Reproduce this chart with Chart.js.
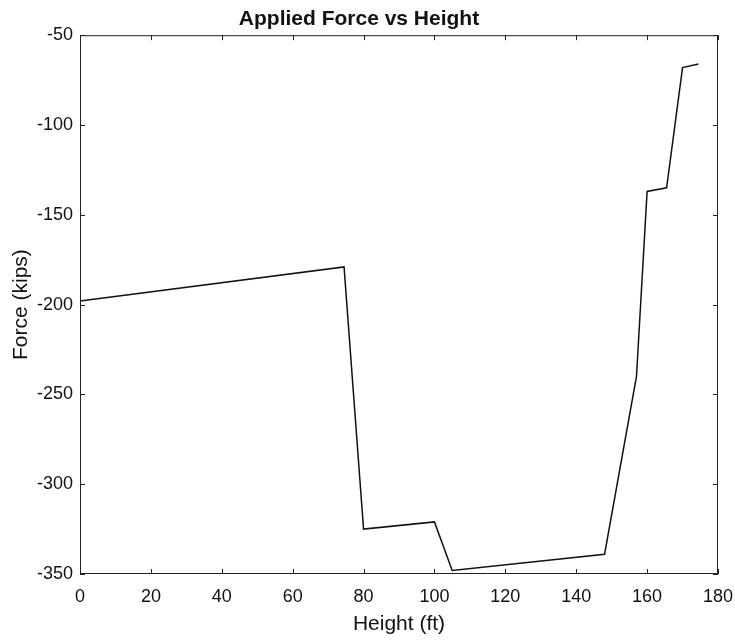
<!DOCTYPE html>
<html>
<head>
<meta charset="utf-8">
<script src="https://cdn.jsdelivr.net/npm/chart.js@4/dist/chart.umd.min.js"></script>
<style>
  html, body { margin: 0; padding: 0; background: #fff; }
  #wrap { width: 735px; height: 640px; }
</style>
</head>
<body>
<div id="wrap"><canvas id="forceChart" width="735" height="640"></canvas></div>
<script>
// values
const heights = [0, 74.5, 80, 100, 105, 148, 157, 160, 165.5, 170, 174.5];
const forces = [-198, -179, -325, -321, -348, -339, -240, -137, -135, -68, -66];
const xTicks = [0, 20, 40, 60, 80, 100, 120, 140, 160, 180];
const yTicks = [-350, -300, -250, -200, -150, -100, -50];

const points = heights.map((h, i) => ({ x: h, y: forces[i] }));

// matlab style box with inward ticks on all four sides
const boxTicks = {
    id: 'boxTicks',
    afterDraw(chart) {
        const ctx = chart.ctx;
        const a = chart.chartArea;
        const xs = chart.scales.x;
        const ys = chart.scales.y;
        const len = 5;
        ctx.save();
        ctx.strokeStyle = '#222';
        ctx.lineWidth = 1;
        ctx.strokeRect(a.left + 0.5, a.top + 0.5, a.right - a.left - 1, a.bottom - a.top - 1);
        ctx.beginPath();
        xTicks.forEach(v => {
            const px = Math.round(xs.getPixelForValue(v)) + 0.5;
            ctx.moveTo(px, a.bottom);
            ctx.lineTo(px, a.bottom - len);
            ctx.moveTo(px, a.top);
            ctx.lineTo(px, a.top + len);
        });
        yTicks.forEach(v => {
            const py = Math.round(ys.getPixelForValue(v)) + 0.5;
            ctx.moveTo(a.left, py);
            ctx.lineTo(a.left + len, py);
            ctx.moveTo(a.right, py);
            ctx.lineTo(a.right - len, py);
        });
        ctx.stroke();
        ctx.restore();
    }
};

Chart.defaults.font.family = '"Liberation Sans", Arial, sans-serif';
Chart.defaults.color = '#111';

new Chart(document.getElementById('forceChart'), {
    type: 'scatter',
    data: {
        datasets: [{
            data: points,
            showLine: true,
            borderColor: '#111',
            borderWidth: 1.5,
            pointRadius: 0,
            tension: 0
        }]
    },
    options: {
        responsive: false,
        animation: false,
        layout: {
            padding: { left: 0, right: 17, top: 0, bottom: 0 }
        },
        plugins: {
            legend: { display: false },
            tooltip: { enabled: false },
            title: {
                display: true,
                text: 'Applied Force vs Height',
                font: { size: 21, weight: 'bold' },
                color: '#111',
                padding: { top: 7, bottom: 3 }
            }
        },
        scales: {
            x: {
                type: 'linear',
                min: 0,
                max: 180,
                afterBuildTicks: s => { s.ticks = xTicks.map(v => ({ value: v })); },
                afterFit: s => { s.height = 66; s.paddingRight = 0; s.paddingLeft = 0; },
                ticks: { font: { size: 18 }, padding: 12, maxRotation: 0 },
                grid: { display: false, drawTicks: false },
                border: { display: false },
                title: {
                    display: true,
                    text: 'Height (ft)',
                    font: { size: 21 },
                    padding: { top: 0, bottom: 3 }
                }
            },
            y: {
                type: 'linear',
                min: -350,
                max: -50,
                afterBuildTicks: s => { s.ticks = yTicks.map(v => ({ value: v })); },
                afterFit: s => { s.width = 80; s.paddingTop = 0; s.paddingBottom = 0; },
                ticks: { font: { size: 18 }, padding: 7 },
                grid: { display: false, drawTicks: false },
                border: { display: false },
                title: {
                    display: true,
                    text: 'Force (kips)',
                    font: { size: 21 },
                    padding: { top: 9, bottom: 0 }
                }
            }
        }
    },
    plugins: [boxTicks]
});
</script>
</body>
</html>
